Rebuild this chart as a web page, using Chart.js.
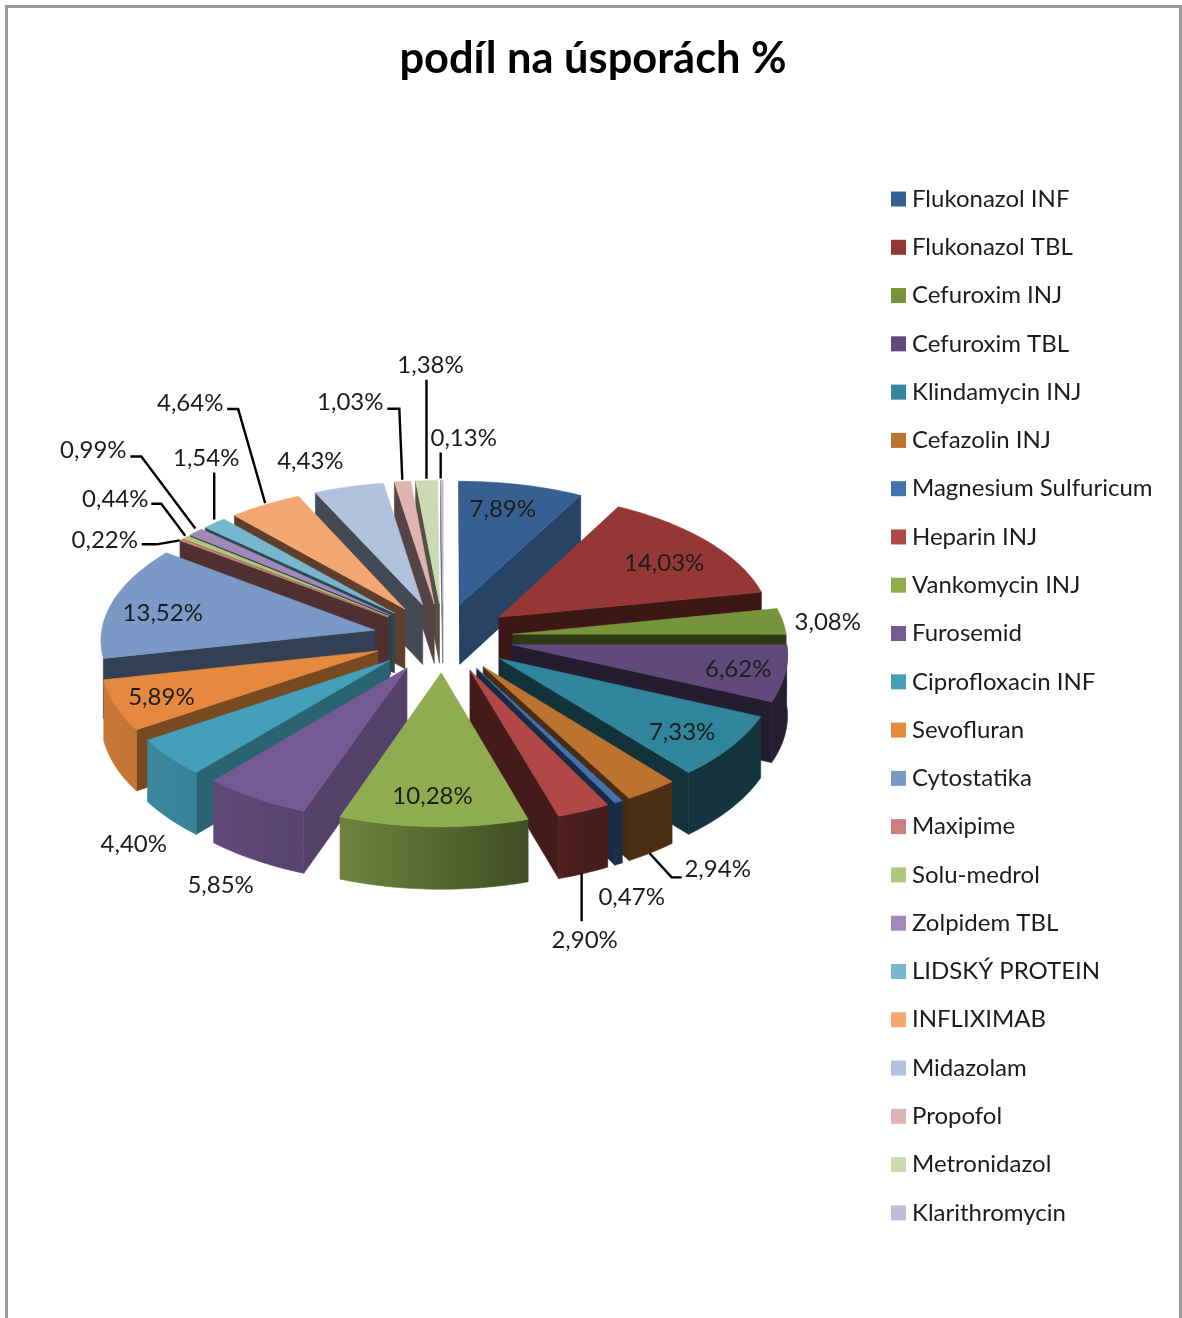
<!DOCTYPE html>
<html>
<head>
<meta charset="utf-8">
<title>podíl na úsporách %</title>
<script src="https://cdn.jsdelivr.net/npm/chart.js@4"></script>
<style>
  html, body { margin: 0; padding: 0; background: #fff; overflow: hidden; height: 100%; }
  #frame { position: absolute; left: 5px; top: 5px; width: 1171px; height: 1400px; border: 3px solid #999; }
  canvas { position: absolute; left: 0; top: 0; }
</style>
</head>
<body>
<div id="frame"></div>
<canvas id="graf" width="1182" height="1318"></canvas>
<script>
const drugs = ["Flukonazol INF", "Flukonazol TBL", "Cefuroxim INJ", "Cefuroxim TBL", "Klindamycin INJ", "Cefazolin INJ",
  "Magnesium Sulfuricum", "Heparin INJ", "Vankomycin INJ", "Furosemid", "Ciprofloxacin INF", "Sevofluran", "Cytostatika",
  "Maxipime", "Solu-medrol", "Zolpidem TBL", "LIDSKÝ PROTEIN", "INFLIXIMAB", "Midazolam", "Propofol", "Metronidazol", "Klarithromycin"];
const shares = [7.89, 14.03, 3.08, 6.62, 7.33, 2.94, 0.47, 2.90, 10.28, 5.85, 4.40, 5.89, 13.52, 0.22, 0.44, 0.99, 1.54, 4.64, 4.43, 1.03, 1.38, 0.13];
const colors = ["#376092", "#953735", "#77933C", "#604A7B", "#31859C", "#BC7330", "#4272B0", "#B04847", "#8FAD50", "#755A94", "#43A0B8",
  "#E5893F", "#7A99C7", "#CD7F7D", "#AEC77E", "#9F8AB9", "#75B7CE", "#F4A771", "#B3C2DC", "#E1B3B2", "#CCDAB4", "#C4BBD5"];

// label position relative to the middle of the slice's outer edge
const labelShift = [[-19, 25], [-45, 22], [43, 1], [-49, -4], [-51, -15], [65, 78], [12, 94], [0, 128], [-1, -32], [-34, 86], [-34, 86],
  [48, -8], [52, 12], [-75, 1], [-69, -38], [-101, -81], [-7, -64], [-74, -101], [-38, -25], [-52, -78], [4, -114], [22, -41]];
// leader lines, same reference point
const leaders = {
  5: [[-3, 62], [19, 86], [29, 86]],
  7: [[-3, 61], [-3, 109]],
  13: [[0, 1], [-23, 5], [-38, 5]],
  14: [[1, -1], [-23, -33], [-33, -33]],
  15: [[1, -3], [-53, -75], [-64, -75]],
  16: [[1, -3], [1, -50]],
  17: [[1, -1], [-26, -95], [-37, -95]],
  19: [[0, -1], [-3, -72], [-15, -72]],
  20: [[0, -1], [0, -100]],
  21: [[-1, -1], [-1, -27]]
};

// 3D look of the pie
const TILT = 0.493;      // y squash
const PERSP = 0.00023;   // front is bigger than back
const FRONT_DROP = 0.000042; // front edge sits a bit lower still
const DEPTH = 60;        // thickness

const LABEL_FONT = '24px Lato';
const LEGEND_TOP = 199;
const LEGEND_STEP = 48.28;

function project(el, x, y, z) {
  const s = 1 / (1 - PERSP * y);
  const drop = y > 0 ? FRONT_DROP * y * y : 0;
  return [el.x + x * s, el.y + TILT * y * s + drop + z * (1 + (s - 1) / 2)];
}

function shade(hex, f) {
  const n = parseInt(hex.slice(1), 16);
  return `rgb(${Math.round((n >> 16) * f)},${Math.round(((n >> 8) & 255) * f)},${Math.round((n & 255) * f)})`;
}

function fillPoly(ctx, pts, color) {
  ctx.beginPath();
  pts.forEach((p, i) => i ? ctx.lineTo(p[0], p[1]) : ctx.moveTo(p[0], p[1]));
  ctx.closePath();
  ctx.fillStyle = color;
  ctx.strokeStyle = color;
  ctx.lineWidth = 0.6;
  ctx.fill();
  ctx.stroke();
}

// walls turned to the right catch the light, the others stay dark
function wallShade(nx) {
  return nx > 0 ? 0.38 + 0.37 * Math.pow(nx, 1.5) : 0.38;
}
function rimShade(nx) {
  if (nx >= 0) return Math.max(0.4, 0.6 - 0.52 * nx);
  return nx > -0.32 ? 0.6 - 0.47 * nx : 0.75 - 0.19 * (nx + 0.32);
}

function drawSlice(ctx, el, color) {
  const mid = (el.startAngle + el.endAngle) / 2;
  const explode = el.options.offset / 4;
  const ex = Math.cos(mid) * explode;
  const ey = Math.sin(mid) * explode;
  const r = el.outerRadius;
  const at = (a, z) => project(el, ex + r * Math.cos(a), ey + r * Math.sin(a), z);
  const tip = z => project(el, ex, ey, z);
  const step = Math.PI / 180;

  // radial walls
  const wall = (a, side) => {
    if (side * (at(a, 0)[0] - tip(0)[0]) < 0) return;
    fillPoly(ctx, [tip(0), at(a, 0), at(a, DEPTH), tip(DEPTH)], shade(color, wallShade(-side * Math.sin(a))));
  };
  wall(el.startAngle, -1);
  wall(el.endAngle, 1);

  // outer rim, only the part facing us (at the far left the next slice hides it)
  const from = Math.max(el.startAngle, 0);
  const to = Math.min(el.endAngle, Math.PI);
  if (to > from && from < 2.85) {
    const upper = [];
    const lower = [];
    for (let a = from; a < to; a += step) {
      upper.push(at(a, 0));
      lower.unshift(at(a, DEPTH));
    }
    upper.push(at(to, 0));
    lower.unshift(at(to, DEPTH));
    const x0 = at(from, 0)[0];
    const x1 = at(to, 0)[0];
    const grad = ctx.createLinearGradient(x0, 0, x1, 0);
    for (let t = 0; t <= 10; t++) {
      grad.addColorStop(t / 10, shade(color, rimShade(Math.cos(from + (to - from) * t / 10))));
    }
    fillPoly(ctx, upper.concat(lower), grad);
  }

  // top
  const top = [tip(0)];
  for (let a = el.startAngle; a < el.endAngle; a += step) top.push(at(a, 0));
  top.push(at(el.endAngle, 0));
  fillPoly(ctx, top, color);
}

const pie3d = {
  id: 'pie3d',
  // the pie only takes the part left of the legend, the title stays centred on the page
  afterLayout(chart) {
    chart.chartArea.right -= 300;
    chart.chartArea.width = chart.chartArea.right - chart.chartArea.left;
  },
  beforeDatasetsDraw(chart) {
    const ctx = chart.ctx;
    const arcs = chart.getDatasetMeta(0).data;
    const order = arcs.map((el, i) => i)
      .sort((a, b) => Math.sin((arcs[a].startAngle + arcs[a].endAngle) / 2) - Math.sin((arcs[b].startAngle + arcs[b].endAngle) / 2));
    ctx.save();
    order.forEach(i => drawSlice(ctx, arcs[i], colors[i]));
    ctx.restore();
    return false;
  },
  afterDraw(chart) {
    const ctx = chart.ctx;
    const arcs = chart.getDatasetMeta(0).data;
    ctx.save();
    ctx.font = LABEL_FONT;
    ctx.textAlign = 'center';
    ctx.textBaseline = 'middle';
    arcs.forEach((el, i) => {
      const mid = (el.startAngle + el.endAngle) / 2;
      const reach = el.outerRadius + el.options.offset / 4 + 2;
      const p = project(el, reach * Math.cos(mid), reach * Math.sin(mid), 0);
      if (leaders[i]) {
        ctx.beginPath();
        leaders[i].forEach((d, k) => k ? ctx.lineTo(p[0] + d[0], p[1] + d[1]) : ctx.moveTo(p[0] + d[0], p[1] + d[1]));
        ctx.strokeStyle = '#000';
        ctx.lineWidth = 2.4;
        ctx.stroke();
      }
      ctx.fillStyle = '#1c1c1c';
      ctx.fillText(shares[i].toFixed(2).replace('.', ',') + '%', p[0] + labelShift[i][0], p[1] + labelShift[i][1]);
    });

    // legend
    ctx.textAlign = 'left';
    drugs.forEach((name, i) => {
      const y = LEGEND_TOP + i * LEGEND_STEP;
      ctx.fillStyle = colors[i];
      ctx.fillRect(891, y - 7.5, 15, 15);
      ctx.fillStyle = '#1c1c1c';
      ctx.fillText(name, 912, y);
    });
    ctx.restore();
  }
};

new Chart(document.getElementById('graf'), {
  type: 'pie',
  data: {
    labels: drugs,
    datasets: [{ data: shares, backgroundColor: colors, borderWidth: 0, offset: 280, radius: 274 }]
  },
  options: {
    responsive: false,
    animation: false,
    layout: { padding: { left: 4, bottom: 128 } },
    plugins: {
      legend: { display: false },
      tooltip: { enabled: false },
      title: {
        display: true,
        text: 'podíl na úsporách %',
        color: '#000',
        font: { family: 'Lato', size: 43.4, weight: 'bold' },
        padding: { top: 33, bottom: 0 }
      }
    }
  },
  plugins: [pie3d]
});
</script>
</body>
</html>
